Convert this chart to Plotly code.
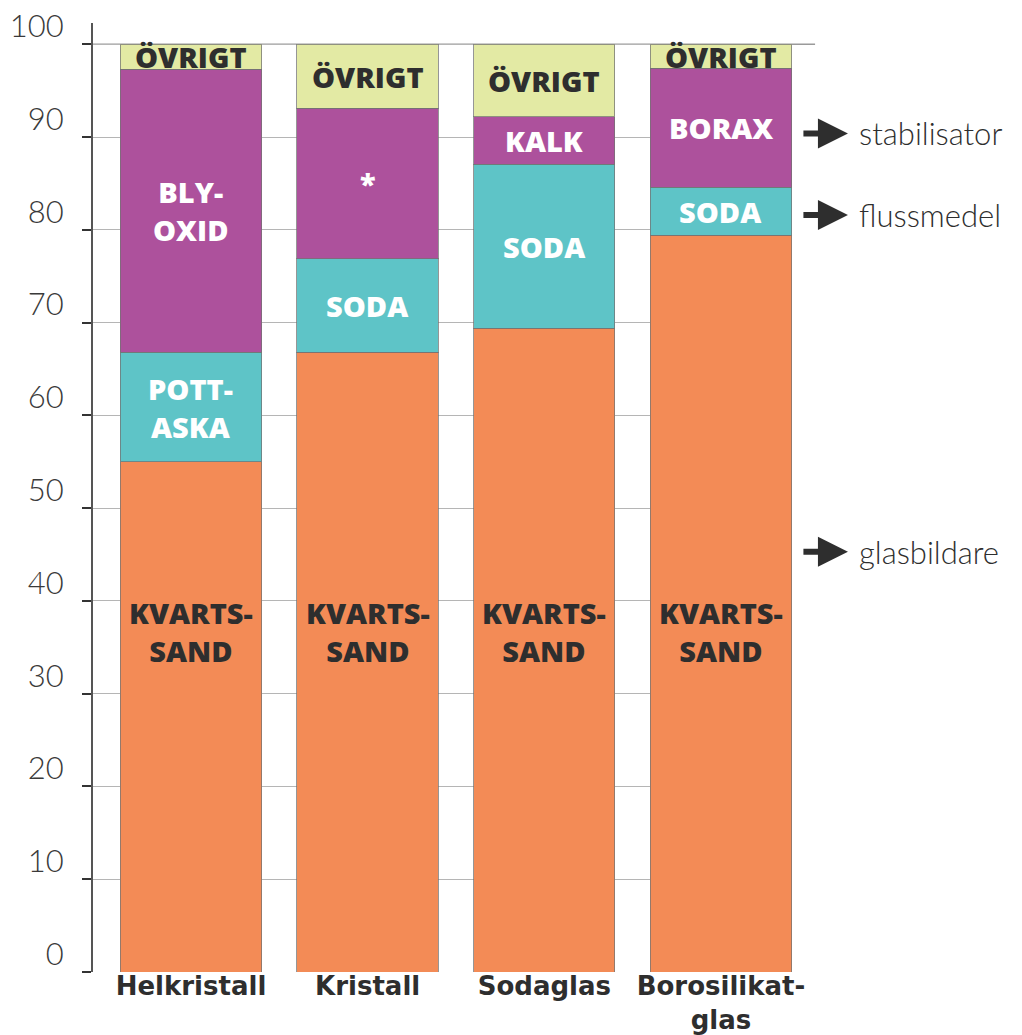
import plotly.graph_objects as go
import numpy as np

categories = ["Helkristall", "Kristall", "Sodaglas", "Borosilikat-<br>glas"]
kvartssand = [55.0, 66.8, 69.4, 79.4]
flussmedel = [11.8, 10.1, 17.7, 5.2]
stabilisator = [30.5, 16.2, 5.1, 12.8]
ovrigt = [2.7, 6.9, 7.8, 2.6]

kvarts_labels = ["KVARTS-<br>SAND"] * 4
fluss_labels = ["POTT-<br>ASKA", "SODA", "SODA", "SODA"]
stab_labels = ["BLY-<br>OXID", "*", "KALK", "BORAX"]
ovrigt_labels = ["ÖVRIGT"] * 4

role_labels = ["stabilisator", "flussmedel", "glasbildare"]
role_values = [90.4, 81.6, 45.3]

y_ticks = [0, 10, 20, 30, 40, 50, 60, 70, 80, 90, 100]

C_ORANGE = "#F38B56"
C_TEAL = "#5EC4C7"
C_PURPLE = "#AD519C"
C_YELLOW = "#E3EAA4"
DARK = "#2e2e2e"

xpos = np.arange(len(categories))
series = [
    (kvartssand, C_ORANGE, kvarts_labels, DARK),
    (flussmedel, C_TEAL, fluss_labels, "white"),
    (stabilisator, C_PURPLE, stab_labels, "white"),
    (ovrigt, C_YELLOW, ovrigt_labels, DARK),
]

fig = go.Figure()
for vals, col, _, _ in series:
    fig.add_trace(go.Bar(
        x=xpos, y=vals, width=0.80,
        marker=dict(color=col, line=dict(color="rgba(115,115,115,0.75)", width=1)),
        hoverinfo="skip", showlegend=False,
    ))

label_font = dict(family="Open Sans", size=29, weight=800)
annotations = []
base = np.zeros(len(categories))
for k, (vals, col, labels, tcol) in enumerate(series):
    vals = np.array(vals)
    for i in range(len(categories)):
        yc = base[i] + vals[i] / 2
        if k == 0:
            yc = 36.7
        annotations.append(dict(
            x=xpos[i], y=yc, xref="x", yref="y", text=labels[i], showarrow=False,
            font=dict(color=tcol, **label_font), align="center",
        ))
    base = base + vals

for lab, v in zip(role_labels, role_values):
    annotations.append(dict(
        x=1.080, y=v, xref="paper", yref="y", text="", showarrow=True,
        ax=-46, ay=0, axref="pixel", ayref="pixel",
        arrowhead=2, arrowsize=1.0, arrowwidth=6, arrowcolor=DARK,
    ))
    annotations.append(dict(
        x=1.093, y=v, xref="paper", yref="y", text=lab, showarrow=False,
        xanchor="left", yanchor="middle",
        font=dict(family="Lato", size=31, weight=300, color=DARK),
    ))

fig.update_layout(
    barmode="stack",
    width=1014, height=1027,
    margin=dict(l=85, r=230, t=15, b=63, autoexpand=False),
    paper_bgcolor="white", plot_bgcolor="white",
    annotations=annotations,
    shapes=[dict(type="line", xref="paper", yref="y", x0=0, x1=1.033, y0=100, y1=100,
                 line=dict(color="#9a9a9a", width=1.5), layer="below")],
    xaxis=dict(
        range=[-0.5547, 3.402], tickvals=xpos, ticktext=categories,
        showgrid=False, zeroline=False, showline=False, ticks="",
        tickfont=dict(family="DejaVu Sans", size=26, weight="bold", color=DARK),
        ticklabelstandoff=-4, automargin=False, ticklabeloverflow="allow",
    ),
    yaxis=dict(
        range=[0, 102.3], tickvals=y_ticks,
        showgrid=True, gridcolor="#b5b5b5", gridwidth=1.2,
        zeroline=False, showline=True, linecolor="#555555", linewidth=2,
        ticks="outside", ticklen=9, tickwidth=2, tickcolor="#333333",
        tickfont=dict(family="Lato", size=31, weight=300, color="#3a3a3a"),
        ticklabelshift=-18, ticklabelstandoff=12, automargin=False,
        ticklabeloverflow="allow",
    ),
    font=dict(family="Open Sans"),
)

fig.write_html("out.html")
